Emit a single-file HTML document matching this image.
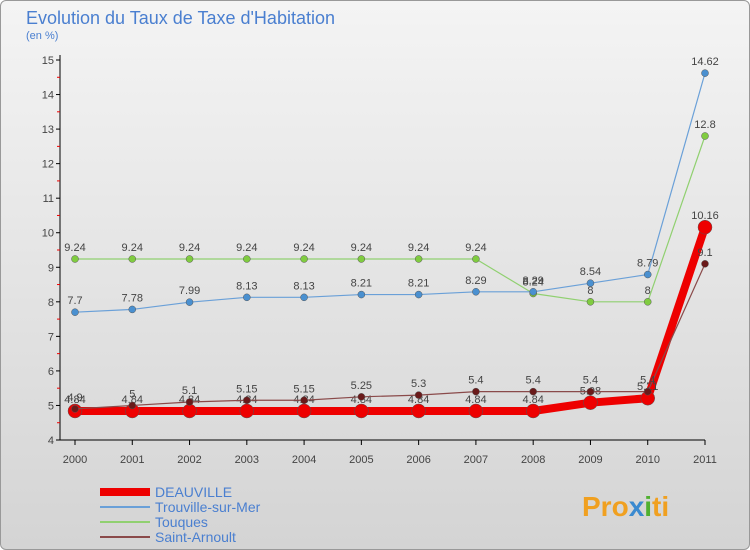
<!DOCTYPE html>
<html><head><meta charset="utf-8"><style>
body{margin:0;width:750px;height:550px;overflow:hidden;font-family:"Liberation Sans",sans-serif}
#wrap{position:absolute;left:0;top:0;width:748px;height:548px;border:1px solid #999;border-radius:6px;background:linear-gradient(#f4f4f4,#d4d4d4)}
</style></head><body>
<div id="wrap"></div>
<svg id="chart" width="750" height="550" style="position:absolute;left:0;top:0">
<text x="26" y="24" font-size="18" fill="#4a7fd0">Evolution du Taux de Taxe d'Habitation</text>
<text x="26" y="39" font-size="11" fill="#4a7fd0">(en %)</text>
<g id="axes"></g><g id="series"></g><g id="legend"></g>
<text x="582" y="516" font-size="28" font-weight="bold" fill="#f0a020">Pro<tspan fill="#3a8ad0">x</tspan><tspan fill="#50b030">i</tspan>ti</text>
</svg>
<script>
const years=[2000,2001,2002,2003,2004,2005,2006,2007,2008,2009,2010,2011];
const yTicks=[4,5,6,7,8,9,10,11,12,13,14,15];
const deauville=[4.84,4.84,4.84,4.84,4.84,4.84,4.84,4.84,4.84,5.08,5.21,10.16];
const trouville=[7.7,7.78,7.99,8.13,8.13,8.21,8.21,8.29,8.29,8.54,8.79,14.62];
const touques=[9.24,9.24,9.24,9.24,9.24,9.24,9.24,9.24,8.24,8,8,12.8];
const stArnoult=[4.9,5,5.1,5.15,5.15,5.25,5.3,5.4,5.4,5.4,5.4,9.1];
const NS="http://www.w3.org/2000/svg";
const X=i=>75+i*(630/11), Y=v=>440-(v-4)*(380/11);
function mk(p,t,a){const e=document.createElementNS(NS,t);for(const k in a)e.setAttribute(k,a[k]);p.appendChild(e);return e;}
const ax=document.getElementById('axes');
let l=mk(ax,'line',{x1:60,y1:55,x2:60,y2:440,stroke:'#000'});

l=mk(ax,'line',{x1:60,y1:440,x2:X(11),y2:440,stroke:'#000'});

yTicks.forEach(v=>{mk(ax,'line',{x1:56,y1:Y(v),x2:60,y2:Y(v),stroke:'#000'});
 if(v<15)mk(ax,'line',{x1:57,y1:Y(v+0.5),x2:60,y2:Y(v+0.5),stroke:'#e00'});
 const t=mk(ax,'text',{x:54,y:Y(v)+4,'font-size':11,fill:'#444','text-anchor':'end'});t.textContent=v;
 });
years.forEach((y,i)=>{mk(ax,'line',{x1:X(i),y1:440,x2:X(i),y2:445,stroke:'#000'});
 const t=mk(ax,'text',{x:X(i),y:463,'font-size':11,fill:'#444','text-anchor':'middle'});t.textContent=y;
 });
const sg=document.getElementById('series');
function series(name,vals,color,w,r,dot){const g=mk(sg,'g',{});
 
 mk(g,'polyline',{points:vals.map((v,i)=>X(i)+','+Y(v)).join(' '),fill:'none',stroke:color,'stroke-width':w,'stroke-linejoin':'round'});
 vals.forEach((v,i)=>{const c=mk(g,'circle',{cx:X(i),cy:Y(v),r:r,fill:dot,stroke:'#555','stroke-width':0.5});
  
  const t=mk(g,'text',{x:X(i),y:Y(v)-8,'font-size':11,fill:'#444','text-anchor':'middle'});t.textContent=v;});}
series('touques',touques,'#90d070',1.2,3.5,'#80cc40');
series('trouville',trouville,'#6aa0d8',1.2,3.5,'#4a90d0');
series('deauville',deauville,'#ee0000',8,7,'#ee0000');
series('saint-arnoult',stArnoult,'#8a4a4a',1.2,3.5,'#6a1a1a');
const lg=document.getElementById('legend');
[['DEAUVILLE','#ee0000',8],['Trouville-sur-Mer','#6aa0d8',2],['Touques','#90d070',2],['Saint-Arnoult','#8a4a4a',2]].forEach((e,i)=>{
 const y=492+i*15;const g=mk(lg,'g',{});
 mk(g,'line',{x1:100,y1:y,x2:150,y2:y,stroke:e[1],'stroke-width':e[2]});
 const t=mk(g,'text',{x:155,y:y+5,'font-size':14,fill:'#4a7fd0'});t.textContent=e[0];});
</script>
</body></html>
